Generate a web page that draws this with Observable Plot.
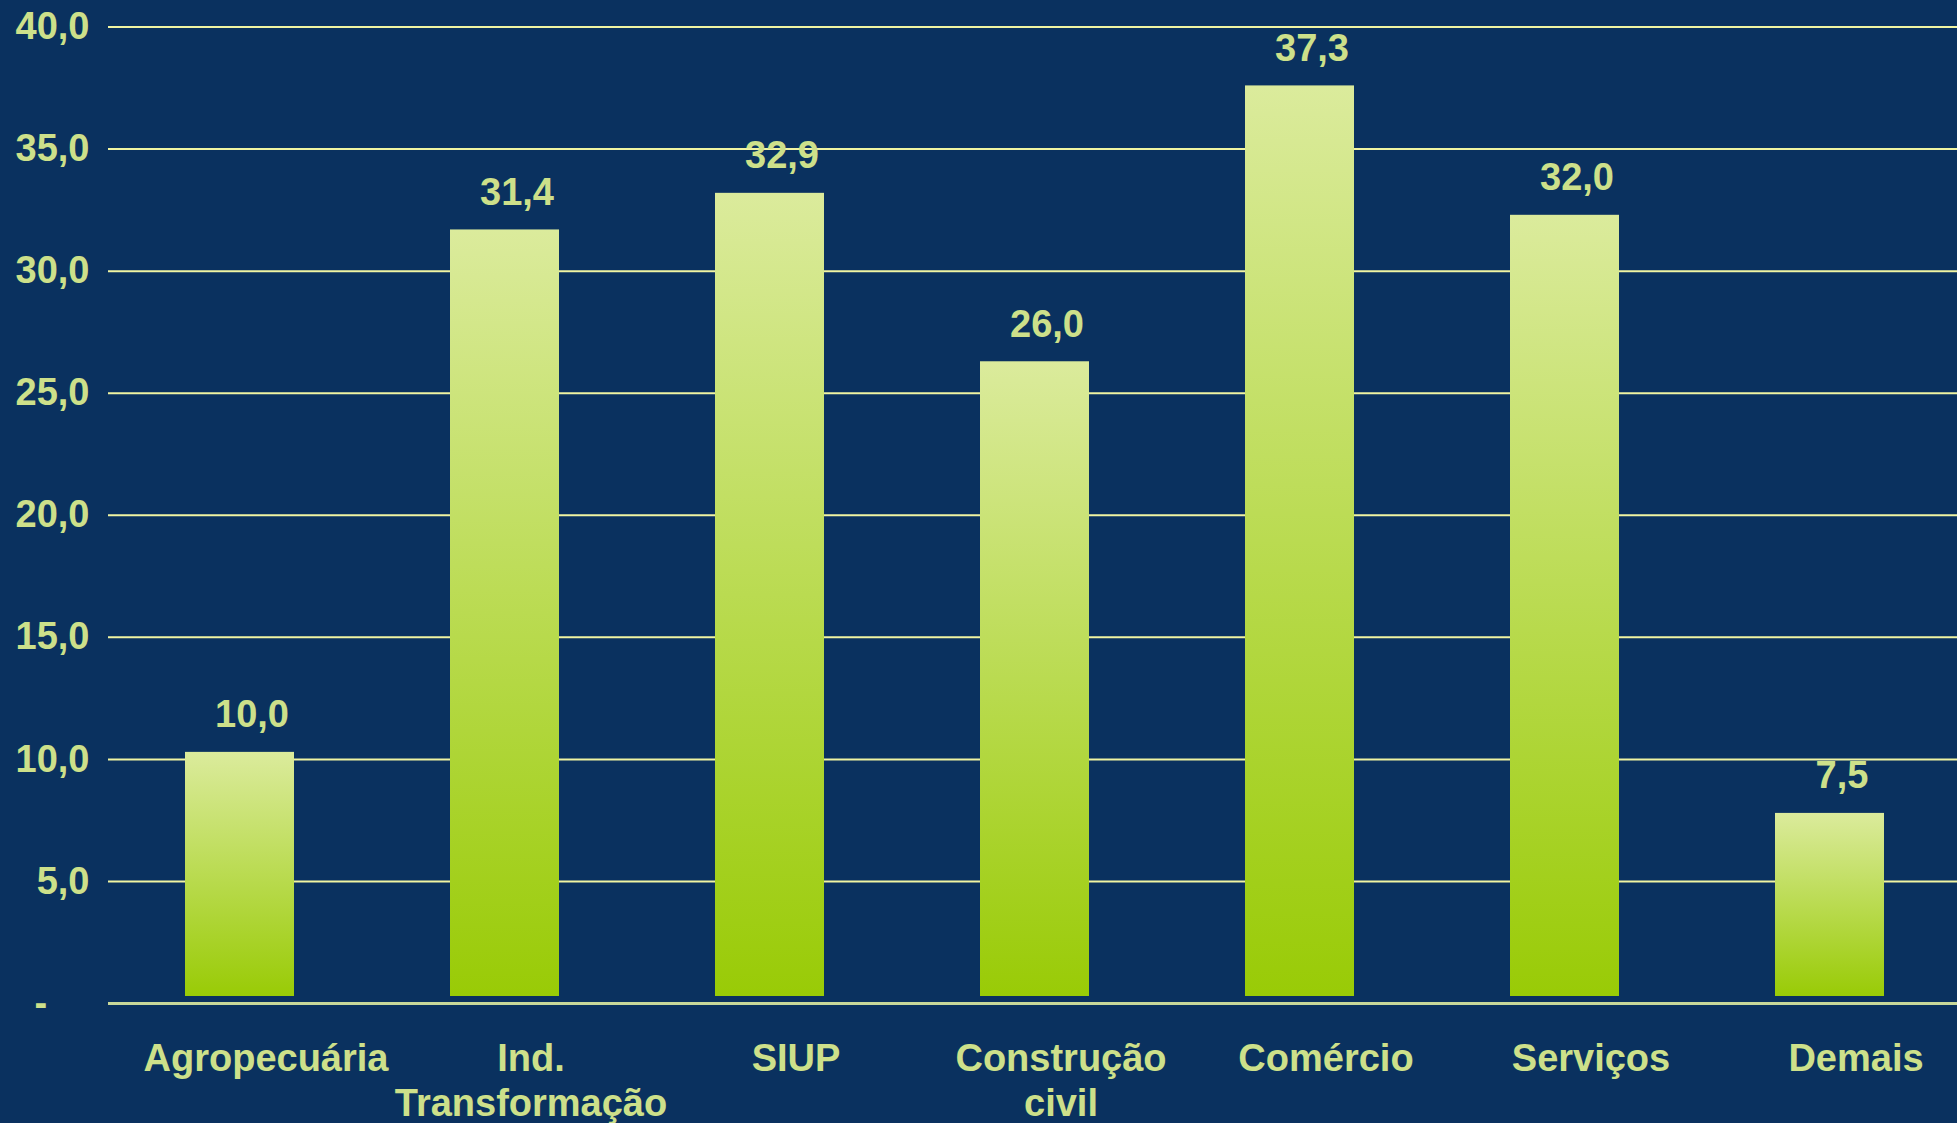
<!DOCTYPE html>
<html><head><meta charset="utf-8">
<script src="https://cdn.jsdelivr.net/npm/d3@7"></script>
<script src="https://cdn.jsdelivr.net/npm/@observablehq/plot@0.6"></script>
<style>html,body{margin:0;padding:0;background:#0a315f;overflow:hidden}</style>
</head><body><div id="chart"></div>
<script>
const categories = ["Agropecuária", "Ind.\nTransformação", "SIUP", "Construção\ncivil", "Comércio", "Serviços", "Demais"];
const values = [10.0, 31.4, 32.9, 26.0, 37.3, 32.0, 7.5];
const yTicks = [0, 5, 10, 15, 20, 25, 30, 35, 40];

const data = categories.map((c, i) => ({category: c, value: values[i]}));
const fmt = d => d === 0 ? "-\u00a0\u00a0\u00a0\u00a0" : d.toFixed(1).replace(".", ",");

const textColor = "#cde08a";
const gridColor = "#f0f4a2";
const baseColor = "#c8d89a";
const font = "'Liberation Sans', Arial, sans-serif";

const chart = Plot.plot({
  width: 1957,
  height: 1123,
  marginLeft: 108,
  marginRight: 0,
  marginTop: 26.5,
  marginBottom: 120,
  style: {background: "transparent", fontFamily: font},
  x: {domain: categories, range: [105, 1964], paddingInner: 0.59, paddingOuter: 0.295},
  y: {domain: [0, 40]},
  marks: [
    Plot.ruleY(yTicks.filter(d => d > 0), {stroke: gridColor, strokeWidth: 2}),
    Plot.ruleY([0], {stroke: baseColor, strokeWidth: 3}),
    Plot.barY(data, {x: "category", y: "value", fill: "url(#barGrad)", dy: -7}),
    Plot.text(data, {x: "category", y: "value", text: d => fmt(d.value), dy: -32, dx: 12, lineAnchor: "bottom", fontSize: 38, fontWeight: "bold", fill: textColor}),
    Plot.axisY({ticks: yTicks, tickFormat: fmt, tickSize: 0, tickPadding: 19, fontSize: 38, fontWeight: "bold", color: textColor, label: null}),
    Plot.axisX({tickSize: 0, tickPadding: 36, fontSize: 38, fontWeight: "bold", color: textColor, label: null, lineHeight: 1.18, dx: 26})
  ]
});

const defs = d3.select(chart).insert("defs", ":first-child");
const grad = defs.append("linearGradient").attr("id", "barGrad")
  .attr("x1", 0).attr("y1", 0).attr("x2", 0).attr("y2", 1);
grad.append("stop").attr("offset", "0%").attr("stop-color", "#dbeb9c");
grad.append("stop").attr("offset", "100%").attr("stop-color", "#99cb06");

document.getElementById("chart").appendChild(chart);
</script>
</body></html>
